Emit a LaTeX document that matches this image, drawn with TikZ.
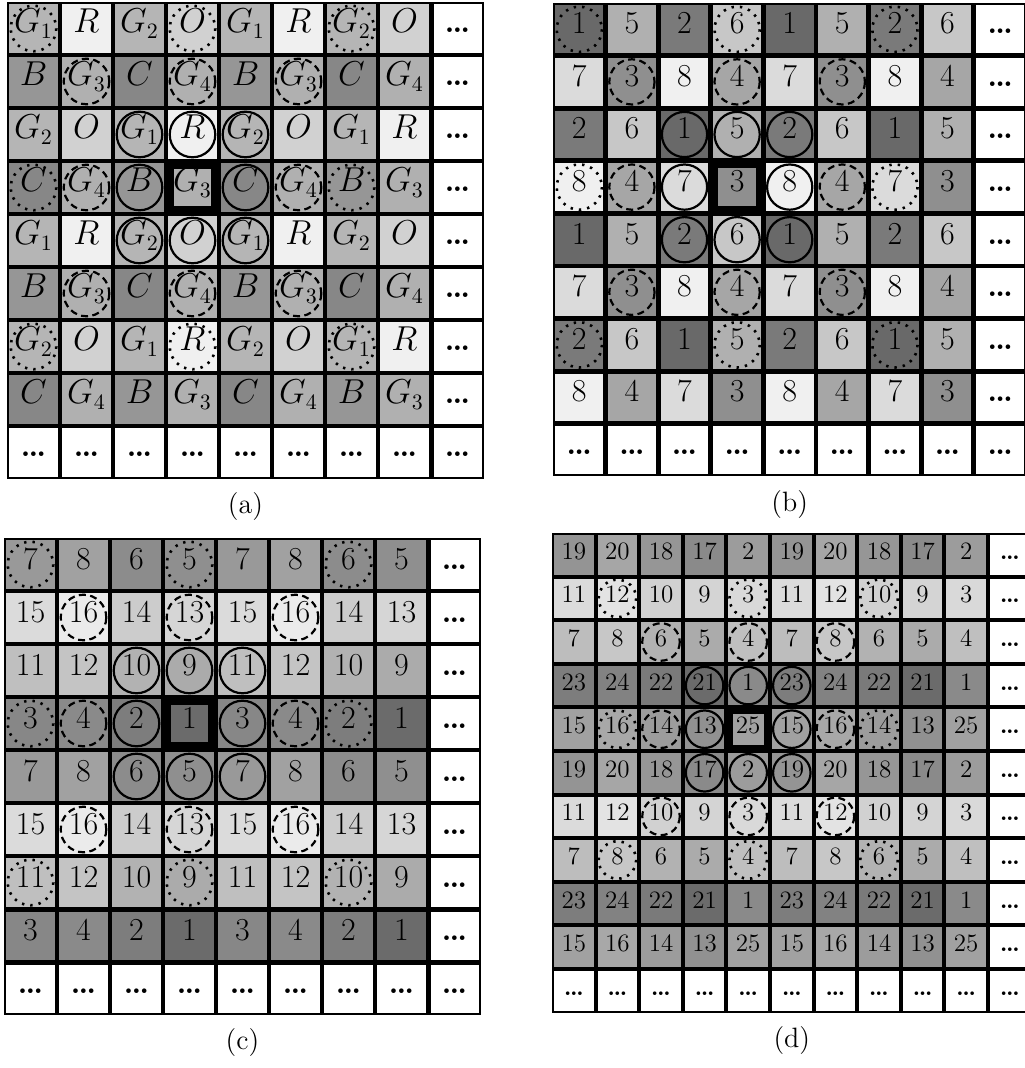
\documentclass[tikz,border=0pt]{standalone}
\usepackage{amsmath,amssymb}
\usepackage{tikz}

\def\tonesA{{0,29,6,29,18,41,31,47,31}}
\def\tonesB{{0,59,52,44,35,31,22,14,6}}
\def\tonesC{{0,58,51,47,46,44,45,40,37,33,30,25,23,16,20,14,8}}
\def\tonesD{{0,46,39,15,25,33,30,26,22,17,18,14,11,43,39,37,34,46,41,42,35,58,52,51,49,37}}

\newcommand{\labA}[1]{$\ifcase#1\or G_1\or R\or G_2\or O\or B\or G_3\or C\or G_4\fi$}
\newcommand{\labN}[1]{#1}

\tikzset{
  solidring/.style={draw=black, line width=1.1pt},
  dashring/.style={draw=black, line width=1.1pt, dash pattern=on 3.5pt off 2.2pt},
  dotring/.style={draw=black, line width=1.3pt, dash pattern=on 1.2pt off 3pt},
  celllabel/.style={inner sep=0pt, text height=0.7em, text depth=0.25em},
  panelcap/.style={font=\fontsize{14}{16}\selectfont}
}

% #1 name, #2/#3 top left, #4 pitch, #5 cells per side, #6 tones, #7 label macro, #8 font size, #9 rows
\newcommand{\drawpanel}[9]{%
  \begin{scope}[shift={(#2,#3)}]
    \pgfmathsetmacro\cellp{#4}
    \pgfmathtruncatemacro\celln{#5}
    \pgfmathtruncatemacro\cellnn{#5+1}
    \pgfmathtruncatemacro\cellm{#5/2}
    \pgfmathsetmacro\lwthin{0.047*\cellp}
    \pgfmathsetmacro\lwthick{0.145*\cellp}
    \tikzset{every node/.append style={font=\fontsize{#8}{#8}\selectfont}}
    \foreach \cells [count=\r] in {#9} {
      \foreach \v [count=\c] in \cells {
        \pgfmathtruncatemacro\dk{#6[\v]}
        \filldraw[fill=black!\dk, line width=\lwthin*0.5pt] ({(\c-1)*\cellp+\lwthin/2},{(\r-1)*\cellp+\lwthin/2}) rectangle ({\c*\cellp-\lwthin/2},{\r*\cellp-\lwthin/2});
        \node[celllabel] (#1-\r-\c) at ({(\c-0.5)*\cellp},{(\r-0.5)*\cellp}) {#7{\v}};
      }
    }
    \foreach \r in {1,...,\celln} {
      \filldraw[fill=white, line width=\lwthin*0.5pt] ({\celln*\cellp+\lwthin/2},{(\r-1)*\cellp+\lwthin/2}) rectangle ({\cellnn*\cellp-\lwthin/2},{\r*\cellp-\lwthin/2});
      \node[celllabel] (#1-\r-\cellnn) at ({(\cellnn-0.5)*\cellp},{(\r-0.5)*\cellp}) {\textbf{\dots}};
    }
    \foreach \c in {1,...,\cellnn} {
      \filldraw[fill=white, line width=\lwthin*0.5pt] ({(\c-1)*\cellp+\lwthin/2},{\celln*\cellp+\lwthin/2}) rectangle ({\c*\cellp-\lwthin/2},{\cellnn*\cellp-\lwthin/2});
      \node[celllabel] (#1-\cellnn-\c) at ({(\c-0.5)*\cellp},{(\cellnn-0.5)*\cellp}) {\textbf{\dots}};
    }
    \draw[line width=\lwthick*0.5pt] ({(\cellm-1)*\cellp+\lwthick/2},{(\cellm-1)*\cellp+\lwthick/2}) rectangle ({\cellm*\cellp-\lwthick/2},{\cellm*\cellp-\lwthick/2});
    \foreach \k/\ring in {1/solidring,2/dashring,3/dotring}
      \foreach \dr/\dc in {-1/-1,-1/0,-1/1,0/-1,0/1,1/-1,1/0,1/1}
        \draw[\ring] ({(\cellm+\k*\dc-0.5)*\cellp},{(\cellm+\k*\dr-0.5)*\cellp}) circle[radius=0.43*\cellp];
    \node[panelcap] (#1-cap) at ({\cellnn*\cellp/2},{\cellnn*\cellp+28}) {(#1)};
  \end{scope}}

\begin{document}
\begin{tikzpicture}[x=0.5pt, y=-0.5pt]
	\useasboundingbox (0,0) rectangle (1024,1068);
	\drawpanel{a}{7}{2}{53}{8}{\tonesA}{\labA}{16}{{1,2,3,4,1,2,3,4},{5,6,7,8,5,6,7,8},{3,4,1,2,3,4,1,2},{7,8,5,6,7,8,5,6},{1,2,3,4,1,2,3,4},{5,6,7,8,5,6,7,8},{3,4,1,2,3,4,1,2},{7,8,5,6,7,8,5,6}}
	\drawpanel{b}{553}{3}{52.6}{8}{\tonesB}{\labN}{16}{{1,5,2,6,1,5,2,6},{7,3,8,4,7,3,8,4},{2,6,1,5,2,6,1,5},{8,4,7,3,8,4,7,3},{1,5,2,6,1,5,2,6},{7,3,8,4,7,3,8,4},{2,6,1,5,2,6,1,5},{8,4,7,3,8,4,7,3}}
	\drawpanel{c}{4}{538}{53}{8}{\tonesC}{\labN}{16}{{7,8,6,5,7,8,6,5},{15,16,14,13,15,16,14,13},{11,12,10,9,11,12,10,9},{3,4,2,1,3,4,2,1},{7,8,6,5,7,8,6,5},{15,16,14,13,15,16,14,13},{11,12,10,9,11,12,10,9},{3,4,2,1,3,4,2,1}}
	\drawpanel{d}{552}{533}{43.6}{10}{\tonesD}{\labN}{12.5}{{19,20,18,17,2,19,20,18,17,2},{11,12,10,9,3,11,12,10,9,3},{7,8,6,5,4,7,8,6,5,4},{23,24,22,21,1,23,24,22,21,1},{15,16,14,13,25,15,16,14,13,25},{19,20,18,17,2,19,20,18,17,2},{11,12,10,9,3,11,12,10,9,3},{7,8,6,5,4,7,8,6,5,4},{23,24,22,21,1,23,24,22,21,1},{15,16,14,13,25,15,16,14,13,25}}
\end{tikzpicture}
\end{document}
